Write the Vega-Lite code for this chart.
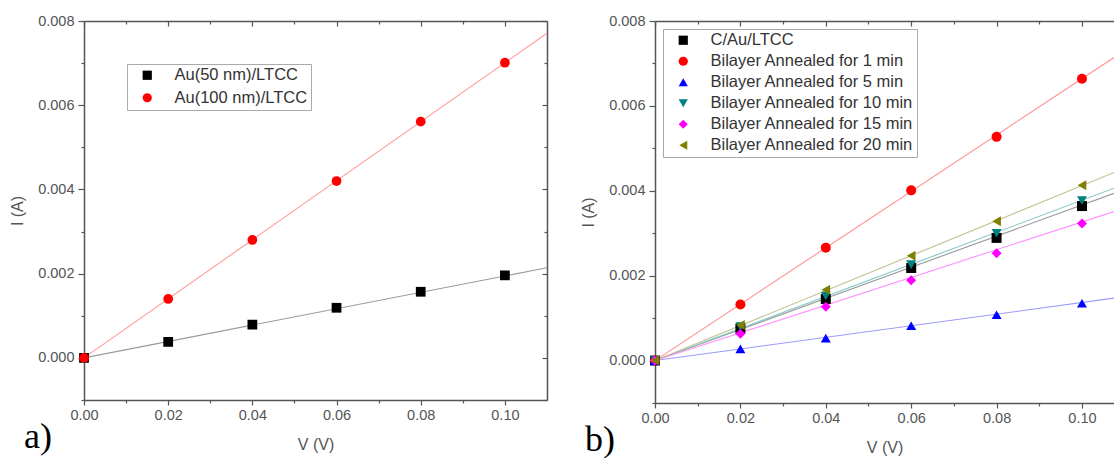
{
  "$schema": "https://vega.github.io/schema/vega-lite/v6.json",
  "background": "white",
  "padding": {"left": 9, "top": 13, "right": 0, "bottom": 0},
  "bounds": "flush",
  "spacing": 108,
  "resolve": {"scale": {"color": "independent", "shape": "independent", "stroke": "independent"}},
  "config": {
    "view": {"stroke": null},
    "axis": {
      "grid": false,
      "domainColor": "#555",
      "domainWidth": 1.5,
      "tickColor": "#555",
      "tickWidth": 1.2,
      "labelColor": "#555",
      "labelFont": "Liberation Sans",
      "labelFontSize": 14.5,
      "labelFlush": false,
      "labelOverlap": false,
      "titleFont": "Liberation Sans",
      "titleFontSize": 16,
      "titleFontWeight": "normal",
      "titleColor": "#555"
    },
    "legend": {
      "labelFont": "Liberation Sans",
      "labelFontSize": 16.5,
      "labelColor": "#333",
      "labelLimit": 0,
      "strokeColor": "#aaa",
      "fillColor": "#ffffff",
      "padding": 3,
      "symbolStrokeWidth": 0,
      "symbolSize": 85,
      "symbolOffset": 9,
      "labelOffset": 19
    },
    "title": {
      "font": "Liberation Serif",
      "fontSize": 36,
      "fontWeight": "normal",
      "color": "#000"
    }
  },
  "datasets": {
    "a_pts": [
      {"series": "Au(50 nm)/LTCC", "V": 0, "I": 0},
      {"series": "Au(50 nm)/LTCC", "V": 0.02, "I": 0.00038},
      {"series": "Au(50 nm)/LTCC", "V": 0.04, "I": 0.00079},
      {"series": "Au(50 nm)/LTCC", "V": 0.06, "I": 0.00119},
      {"series": "Au(50 nm)/LTCC", "V": 0.08, "I": 0.00157},
      {"series": "Au(50 nm)/LTCC", "V": 0.10, "I": 0.00196},
      {"series": "Au(100 nm)/LTCC", "V": 0, "I": 0},
      {"series": "Au(100 nm)/LTCC", "V": 0.02, "I": 0.0014},
      {"series": "Au(100 nm)/LTCC", "V": 0.04, "I": 0.0028},
      {"series": "Au(100 nm)/LTCC", "V": 0.06, "I": 0.0042},
      {"series": "Au(100 nm)/LTCC", "V": 0.08, "I": 0.00561},
      {"series": "Au(100 nm)/LTCC", "V": 0.10, "I": 0.00701}
    ],
    "a_fit": [
      {"series": "Au(50 nm)/LTCC", "V": 0, "I": 0},
      {"series": "Au(50 nm)/LTCC", "V": 0.11, "I": 0.00214},
      {"series": "Au(100 nm)/LTCC", "V": 0, "I": 0},
      {"series": "Au(100 nm)/LTCC", "V": 0.11, "I": 0.00771}
    ],
    "b_pts": [
      {"series": "C/Au/LTCC", "V": 0, "I": 0},
      {"series": "C/Au/LTCC", "V": 0.02, "I": 0.00075},
      {"series": "C/Au/LTCC", "V": 0.04, "I": 0.00145},
      {"series": "C/Au/LTCC", "V": 0.06, "I": 0.00218},
      {"series": "C/Au/LTCC", "V": 0.08, "I": 0.00289},
      {"series": "C/Au/LTCC", "V": 0.10, "I": 0.00364},
      {"series": "Bilayer Annealed for 1 min", "V": 0, "I": 0},
      {"series": "Bilayer Annealed for 1 min", "V": 0.02, "I": 0.00132},
      {"series": "Bilayer Annealed for 1 min", "V": 0.04, "I": 0.00266},
      {"series": "Bilayer Annealed for 1 min", "V": 0.06, "I": 0.00401},
      {"series": "Bilayer Annealed for 1 min", "V": 0.08, "I": 0.00527},
      {"series": "Bilayer Annealed for 1 min", "V": 0.10, "I": 0.00664},
      {"series": "Bilayer Annealed for 5 min", "V": 0, "I": 0},
      {"series": "Bilayer Annealed for 5 min", "V": 0.02, "I": 0.000275},
      {"series": "Bilayer Annealed for 5 min", "V": 0.04, "I": 0.00053},
      {"series": "Bilayer Annealed for 5 min", "V": 0.06, "I": 0.00082},
      {"series": "Bilayer Annealed for 5 min", "V": 0.08, "I": 0.00108},
      {"series": "Bilayer Annealed for 5 min", "V": 0.10, "I": 0.00135},
      {"series": "Bilayer Annealed for 10 min", "V": 0, "I": 0},
      {"series": "Bilayer Annealed for 10 min", "V": 0.02, "I": 0.0008},
      {"series": "Bilayer Annealed for 10 min", "V": 0.04, "I": 0.00152},
      {"series": "Bilayer Annealed for 10 min", "V": 0.06, "I": 0.00226},
      {"series": "Bilayer Annealed for 10 min", "V": 0.08, "I": 0.003},
      {"series": "Bilayer Annealed for 10 min", "V": 0.10, "I": 0.00377},
      {"series": "Bilayer Annealed for 15 min", "V": 0, "I": 0},
      {"series": "Bilayer Annealed for 15 min", "V": 0.02, "I": 0.00063},
      {"series": "Bilayer Annealed for 15 min", "V": 0.04, "I": 0.00127},
      {"series": "Bilayer Annealed for 15 min", "V": 0.06, "I": 0.00189},
      {"series": "Bilayer Annealed for 15 min", "V": 0.08, "I": 0.00253},
      {"series": "Bilayer Annealed for 15 min", "V": 0.10, "I": 0.00323},
      {"series": "Bilayer Annealed for 20 min", "V": 0, "I": 0},
      {"series": "Bilayer Annealed for 20 min", "V": 0.02, "I": 0.00084},
      {"series": "Bilayer Annealed for 20 min", "V": 0.04, "I": 0.00167},
      {"series": "Bilayer Annealed for 20 min", "V": 0.06, "I": 0.00247},
      {"series": "Bilayer Annealed for 20 min", "V": 0.08, "I": 0.00328},
      {"series": "Bilayer Annealed for 20 min", "V": 0.10, "I": 0.00413}
    ],
    "b_fit": [
      {"series": "C/Au/LTCC", "V": 0, "I": 0},
      {"series": "C/Au/LTCC", "V": 0.1075, "I": 0.00394},
      {"series": "Bilayer Annealed for 1 min", "V": 0, "I": 0},
      {"series": "Bilayer Annealed for 1 min", "V": 0.1075, "I": 0.00714},
      {"series": "Bilayer Annealed for 5 min", "V": 0, "I": 0},
      {"series": "Bilayer Annealed for 5 min", "V": 0.1075, "I": 0.00147},
      {"series": "Bilayer Annealed for 10 min", "V": 0, "I": 0},
      {"series": "Bilayer Annealed for 10 min", "V": 0.1075, "I": 0.00406},
      {"series": "Bilayer Annealed for 15 min", "V": 0, "I": 0},
      {"series": "Bilayer Annealed for 15 min", "V": 0.1075, "I": 0.00351},
      {"series": "Bilayer Annealed for 20 min", "V": 0, "I": 0},
      {"series": "Bilayer Annealed for 20 min", "V": 0.1075, "I": 0.00443}
    ]
  },
  "hconcat": [
    {
      "width": 463,
      "height": 379,
      "title": {"text": "a)", "orient": "bottom", "anchor": "start", "frame": "group", "dx": -60, "dy": -33, "offset": 0},
      "resolve": {"axis": {"x": "independent", "y": "independent"}, "legend": {"stroke": "independent"}},
      "layer": [
        {
          "data": {"name": "a_fit"},
          "mark": {"type": "line", "strokeWidth": 1.1},
          "encoding": {
            "x": {"field": "V", "type": "quantitative", "scale": {"domain": [0, 0.11], "nice": false, "zero": false},
              "axis": {"orient": "bottom", "title": "V (V)", "values": [0, 0.02, 0.04, 0.06, 0.08, 0.1], "format": ".2f",
                "tickSize": 5, "labelPadding": 3, "titlePadding": 15}},
            "y": {"field": "I", "type": "quantitative", "scale": {"domain": [-0.001, 0.008], "nice": false, "zero": false},
              "axis": {"orient": "left", "title": "I (A)", "values": [0, 0.002, 0.004, 0.006, 0.008], "format": ".3f",
                "tickSize": 6, "labelPadding": 4, "titlePadding": 12}},
            "detail": {"field": "series"},
            "stroke": {"field": "series", "type": "nominal", "legend": null,
              "scale": {"domain": ["Au(100 nm)/LTCC", "Au(50 nm)/LTCC"], "range": ["#ff9a9a", "#9a9a9a"]}}
          }
        },
        {
          "data": {"name": "a_pts"},
          "mark": {"type": "point", "filled": true, "size": 95, "opacity": 1, "strokeWidth": 0},
          "encoding": {
            "x": {"field": "V", "type": "quantitative",
              "axis": {"orient": "top", "title": null, "labels": false, "values": [0, 0.02, 0.04, 0.06, 0.08, 0.1], "tickSize": -5}},
            "y": {"field": "I", "type": "quantitative",
              "axis": {"orient": "right", "title": null, "labels": false, "values": [0, 0.002, 0.004, 0.006, 0.008], "tickSize": -5}},
            "color": {"field": "series", "type": "nominal",
              "scale": {"domain": ["Au(50 nm)/LTCC", "Au(100 nm)/LTCC"], "range": ["#000000", "#ff0000"]},
              "legend": {"title": null, "orient": "none", "legendX": 43, "legendY": 43, "rowPadding": 5.5}},
            "shape": {"field": "series", "type": "nominal",
              "scale": {"domain": ["Au(50 nm)/LTCC", "Au(100 nm)/LTCC"], "range": ["square", "circle"]},
              "legend": {"title": null, "orient": "none", "legendX": 43, "legendY": 43, "rowPadding": 5.5}}
          }
        },
        {
          "data": {"name": "a_pts"},
          "mark": {"type": "point", "opacity": 0},
          "encoding": {
            "x": {"field": "V", "type": "quantitative",
              "axis": {"orient": "bottom", "title": null, "labels": false, "domain": false, "values": [0.01, 0.03, 0.05, 0.07, 0.09], "tickSize": 3}},
            "y": {"field": "I", "type": "quantitative",
              "axis": {"orient": "left", "title": null, "labels": false, "domain": false, "values": [-0.001, 0.001, 0.003, 0.005, 0.007], "tickSize": 3}}
          }
        },
        {
          "data": {"name": "a_pts"},
          "mark": {"type": "point", "opacity": 0},
          "encoding": {
            "x": {"field": "V", "type": "quantitative",
              "axis": {"orient": "top", "title": null, "labels": false, "domain": false, "values": [0.01, 0.03, 0.05, 0.07, 0.09], "tickSize": -3}},
            "y": {"field": "I", "type": "quantitative",
              "axis": {"orient": "right", "title": null, "labels": false, "domain": false, "values": [-0.001, 0.001, 0.003, 0.005, 0.007], "tickSize": -3}}
          }
        }
      ]
    },
    {
      "width": 459,
      "height": 382,
      "title": {"text": "b)", "orient": "bottom", "anchor": "start", "frame": "group", "dx": -70, "dy": -33, "offset": 0},
      "resolve": {"axis": {"x": "independent", "y": "independent"}, "legend": {"stroke": "independent"}},
      "layer": [
        {
          "data": {"name": "b_fit"},
          "mark": {"type": "line", "strokeWidth": 1.1, "clip": true},
          "encoding": {
            "x": {"field": "V", "type": "quantitative", "scale": {"domain": [0, 0.1075], "nice": false, "zero": false},
              "axis": {"orient": "bottom", "title": "V (V)", "values": [0, 0.02, 0.04, 0.06, 0.08, 0.1], "format": ".2f",
                "tickSize": 5, "labelPadding": 3, "titlePadding": 15}},
            "y": {"field": "I", "type": "quantitative", "scale": {"domain": [-0.001, 0.008], "nice": false, "zero": false},
              "axis": {"orient": "left", "title": "I (A)", "values": [0, 0.002, 0.004, 0.006, 0.008], "format": ".3f",
                "tickSize": 6, "labelPadding": 4, "titlePadding": 12}},
            "detail": {"field": "series"},
            "stroke": {"field": "series", "type": "nominal", "legend": null,
              "scale": {"domain": ["Bilayer Annealed for 20 min", "Bilayer Annealed for 15 min", "Bilayer Annealed for 10 min", "Bilayer Annealed for 5 min", "Bilayer Annealed for 1 min", "C/Au/LTCC"],
                "range": ["#c0c090", "#ff90ff", "#88c8c8", "#9b9bff", "#ff9090", "#999999"]}}
          }
        },
        {
          "data": {"name": "b_pts"},
          "mark": {"type": "point", "filled": true, "size": 100, "opacity": 1, "strokeWidth": 0},
          "encoding": {
            "x": {"field": "V", "type": "quantitative",
              "axis": {"orient": "top", "title": null, "labels": false, "values": [0, 0.02, 0.04, 0.06, 0.08, 0.1], "tickSize": -5}},
            "y": {"field": "I", "type": "quantitative", "axis": null},
            "color": {"field": "series", "type": "nominal",
              "scale": {"domain": ["C/Au/LTCC", "Bilayer Annealed for 1 min", "Bilayer Annealed for 5 min", "Bilayer Annealed for 10 min", "Bilayer Annealed for 15 min", "Bilayer Annealed for 20 min"],
                "range": ["#000000", "#ff0000", "#0000ff", "#008080", "#ff00ff", "#808000"]},
              "legend": {"title": null, "orient": "none", "legendX": 8, "legendY": 8, "rowPadding": 4}},
            "shape": {"field": "series", "type": "nominal",
              "scale": {"domain": ["C/Au/LTCC", "Bilayer Annealed for 1 min", "Bilayer Annealed for 5 min", "Bilayer Annealed for 10 min", "Bilayer Annealed for 15 min", "Bilayer Annealed for 20 min"],
                "range": ["square", "circle", "triangle-up", "triangle-down", "diamond", "triangle-left"]},
              "legend": {"title": null, "orient": "none", "legendX": 8, "legendY": 8, "rowPadding": 4}}
          }
        },
        {
          "data": {"name": "b_pts"},
          "mark": {"type": "point", "opacity": 0},
          "encoding": {
            "x": {"field": "V", "type": "quantitative",
              "axis": {"orient": "bottom", "title": null, "labels": false, "domain": false, "values": [0.01, 0.03, 0.05, 0.07, 0.09], "tickSize": 3}},
            "y": {"field": "I", "type": "quantitative",
              "axis": {"orient": "left", "title": null, "labels": false, "domain": false, "values": [-0.001, 0.001, 0.003, 0.005, 0.007], "tickSize": 3}}
          }
        },
        {
          "data": {"name": "b_pts"},
          "mark": {"type": "point", "opacity": 0},
          "encoding": {
            "x": {"field": "V", "type": "quantitative",
              "axis": {"orient": "top", "title": null, "labels": false, "domain": false, "values": [0.01, 0.03, 0.05, 0.07, 0.09], "tickSize": -3}},
            "y": {"field": "I", "type": "quantitative", "axis": null}
          }
        }
      ]
    }
  ]
}
